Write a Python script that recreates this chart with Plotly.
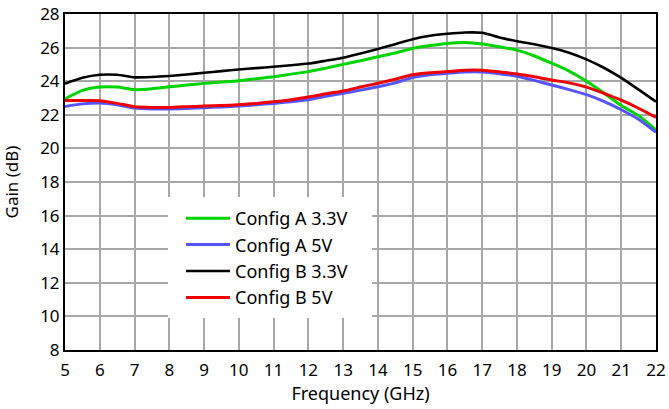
import plotly.graph_objects as go

freq = [5, 5.5, 6, 6.5, 7, 7.5, 8, 8.5, 9, 9.5, 10, 10.5, 11, 11.5, 12, 12.5, 13, 13.5,
        14, 14.5, 15, 15.5, 16, 16.5, 17, 17.5, 18, 18.5, 19, 19.5, 20, 20.5, 21, 21.5, 22]

gain_a_33 = [22.95, 23.45, 23.65, 23.65, 23.5, 23.55, 23.67, 23.77, 23.87, 23.95, 24.03, 24.15,
             24.27, 24.42, 24.57, 24.78, 25.0, 25.22, 25.46, 25.68, 25.95, 26.12, 26.25, 26.3,
             26.22, 26.05, 25.85, 25.5, 25.07, 24.6, 24.0, 23.3, 22.55, 21.95, 21.1]
gain_a_5 = [22.5, 22.65, 22.7, 22.6, 22.4, 22.35, 22.35, 22.38, 22.42, 22.47, 22.52, 22.6,
            22.68, 22.78, 22.9, 23.1, 23.28, 23.47, 23.67, 23.9, 24.22, 24.38, 24.47, 24.55,
            24.55, 24.45, 24.3, 24.05, 23.77, 23.5, 23.2, 22.8, 22.3, 21.73, 20.95]
gain_b_33 = [23.85, 24.2, 24.38, 24.38, 24.23, 24.25, 24.31, 24.4, 24.5, 24.6, 24.7, 24.78,
             24.86, 24.95, 25.05, 25.22, 25.4, 25.65, 25.92, 26.2, 26.5, 26.7, 26.82, 26.9,
             26.88, 26.6, 26.38, 26.2, 25.98, 25.7, 25.3, 24.8, 24.2, 23.5, 22.78]
gain_b_5 = [22.85, 22.85, 22.84, 22.68, 22.48, 22.44, 22.44, 22.48, 22.52, 22.55, 22.6, 22.68,
            22.78, 22.9, 23.06, 23.25, 23.42, 23.65, 23.88, 24.12, 24.38, 24.5, 24.57, 24.65,
            24.65, 24.55, 24.43, 24.27, 24.07, 23.9, 23.65, 23.28, 22.88, 22.39, 21.85]

series_names = ["Config A 3.3V", "Config A 5V", "Config B 3.3V", "Config B 5V"]
series_values = [gain_a_33, gain_a_5, gain_b_33, gain_b_5]
series_colors = ["#00d400", "#5555ff", "#000000", "#ee0000"]
series_widths = [3, 3, 2.6, 3]

x_ticks = list(range(5, 23))
y_ticks = list(range(8, 29, 2))

font_family = "Noto Sans"

fig = go.Figure()
for name, vals, col, w in zip(series_names, series_values, series_colors, series_widths):
    fig.add_trace(go.Scatter(
        x=freq, y=vals, name=name, mode="lines",
        line=dict(color=col, width=w, shape="spline", smoothing=0.6),
    ))

# white backing box behind the legend (covers grid as in the reference)
fig.add_shape(type="rect", xref="paper", yref="paper",
              x0=(168 - 65) / 591, x1=(372 - 65) / 591,
              y0=(350 - 318) / 336, y1=(350 - 197) / 336,
              fillcolor="white", line=dict(width=0), layer="above")

fig.update_layout(
    width=669, height=409,
    margin=dict(l=65, r=13, t=14, b=59),
    paper_bgcolor="white", plot_bgcolor="white",
    font=dict(family=font_family, size=17, color="black"),
    showlegend=True,
    legend=dict(
        x=(181 - 65) / 591, y=(350 - 200) / 336, xanchor="left", yanchor="top",
        bgcolor="rgba(0,0,0,0)", borderwidth=0,
        font=dict(family=font_family, size=18, color="black"),
        itemwidth=44,
    ),
    xaxis=dict(
        range=[5, 22], tickvals=x_ticks, ticktext=[str(v) for v in x_ticks],
        showgrid=True, gridcolor="#a8a8a8", gridwidth=2,
        showline=True, linecolor="black", linewidth=2, mirror=True,
        ticks="", zeroline=False, automargin=False, ticklabelstandoff=4,
        title=dict(text="Frequency (GHz)", font=dict(size=18), standoff=4),
    ),
    yaxis=dict(
        range=[8, 28], tickvals=y_ticks, ticktext=[str(v) for v in y_ticks],
        showgrid=True, gridcolor="#a8a8a8", gridwidth=2,
        showline=True, linecolor="black", linewidth=2, mirror=True,
        ticks="", zeroline=False, automargin=False,
        title=dict(text="Gain (dB)", font=dict(size=17), standoff=20),
    ),
)

fig.write_html("out.html", post_script="document.body.style.margin='0';",
               config={"displayModeBar": False})
